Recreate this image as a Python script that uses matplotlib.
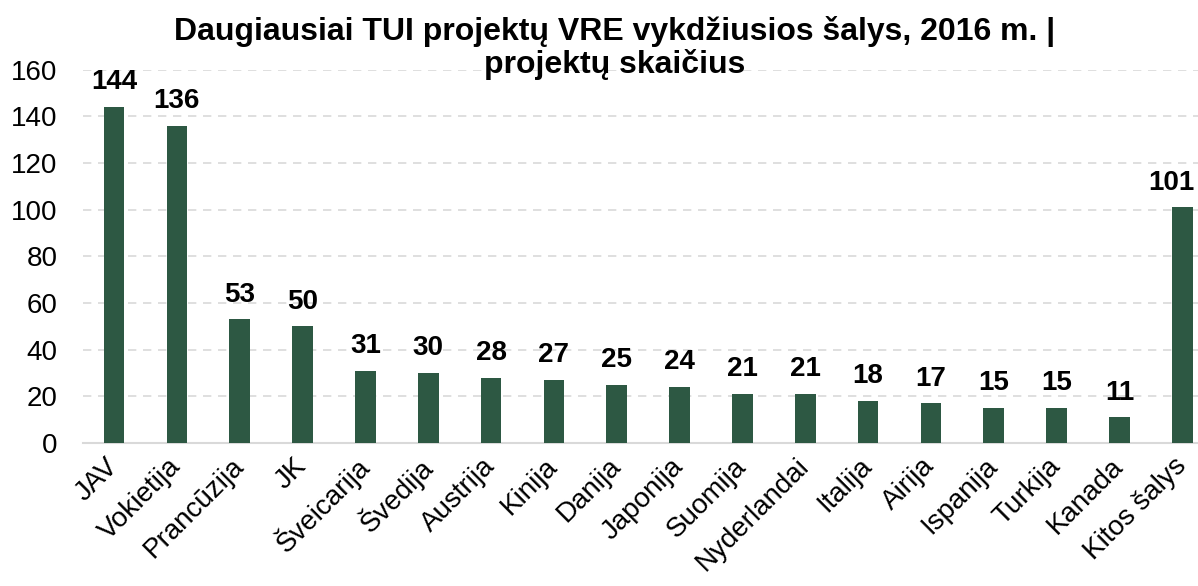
import matplotlib.pyplot as plt

plt.rcParams['font.family'] = ['Liberation Sans', 'DejaVu Sans']

# data
countries = ['JAV', 'Vokietija', 'Prancūzija', 'JK', 'Šveicarija', 'Švedija',
             'Austrija', 'Kinija', 'Danija', 'Japonija', 'Suomija', 'Nyderlandai',
             'Italija', 'Airija', 'Ispanija', 'Turkija', 'Kanada', 'Kitos šalys']
projects = [144, 136, 53, 50, 31, 30, 28, 27, 25, 24, 21, 21, 18, 17, 15, 15, 11, 101]

fig = plt.figure(figsize=(11.98, 5.86), dpi=100)
ax = fig.add_axes([0.069, 0.244, 0.931, 0.637])

x = range(len(countries))
ax.bar(x, projects, width=0.33, color='#2d5843', zorder=3)
for xi, v in zip(x, projects):
    # keep the last label inside the figure
    ha = 'center' if xi < len(countries) - 1 else 'right'
    xt = xi if ha == 'center' else xi + 0.2
    ax.text(xt, v + 5, str(v), ha=ha, va='bottom', fontsize=20,
            fontweight='bold', zorder=4)

ax.set_ylim(0, 160)
ax.set_xlim(-0.5, 17.25)
ax.set_yticks(range(0, 161, 20))
ax.tick_params(axis='y', labelsize=20, length=0, pad=18)
ax.tick_params(axis='x', length=0, pad=14)
ax.set_xticks(list(x))
ax.set_xticklabels(countries, rotation=45, ha='right', va='center',
                   rotation_mode='anchor', fontsize=20)
ax.yaxis.grid(True, color='#d9d9d9', linestyle=(0, (5, 4)), linewidth=1.2, zorder=0)
for s in ['top', 'right', 'left']:
    ax.spines[s].set_visible(False)
ax.spines['bottom'].set_color('#d9d9d9')
ax.spines['bottom'].set_linewidth(1.5)

fig.text(0.513, 0.972, 'Daugiausiai TUI projektų VRE vykdžiusios šalys, 2016 m. |\nprojektų skaičius',
         ha='center', va='top', fontsize=23, fontweight='bold', linespacing=1.08)

fig.savefig('out.png')
